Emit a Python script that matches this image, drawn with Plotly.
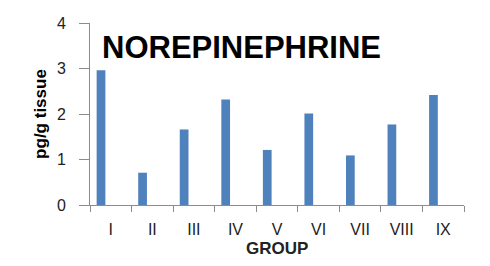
import plotly.graph_objects as go

groups = ["I", "II", "III", "IV", "V", "VI", "VII", "VIII", "IX"]
values = [2.96, 0.71, 1.66, 2.32, 1.21, 2.01, 1.09, 1.77, 2.42]
title_text = "NOREPINEPHRINE"
y_title = "pg/g tissue"
x_title = "GROUP"

fnt = "Liberation Sans, Arial, sans-serif"

fig = go.Figure()
fig.add_trace(go.Bar(
    x=groups, y=values,
    marker=dict(color="#4F81BD", line=dict(width=0)),
    width=0.21, offset=-0.34,
))

# page body has an 8px margin; figure sized/placed to compensate
fig.update_layout(
    width=474, height=250,
    margin=dict(l=82, r=18, t=7, b=53),
    paper_bgcolor="white", plot_bgcolor="white",
    showlegend=False,
    font=dict(family=fnt, color="#222222"),
    xaxis=dict(
        type="category", range=[-0.5, 8.5],
        showline=True, linecolor="#8c8c8c", linewidth=1,
        ticks="outside", tickson="boundaries", ticklen=6, tickcolor="#8c8c8c",
        ticklabelstandoff=10,
        tickfont=dict(size=16, color="#222222"), showgrid=False, zeroline=False,
    ),
    yaxis=dict(
        range=[0, 4], tickvals=[0, 1, 2, 3, 4],
        showline=True, linecolor="#8c8c8c", linewidth=1,
        ticks="outside", ticklen=10, tickcolor="#8c8c8c",
        ticklabelstandoff=10, ticklabeloverflow="allow",
        tickfont=dict(size=16, color="#222222"), showgrid=False, zeroline=False,
    ),
    annotations=[
        dict(text=f"<b>{title_text}</b>", xref="paper", yref="paper",
             x=0.406, y=0.865, xanchor="center", yanchor="middle",
             showarrow=False, font=dict(size=31, color="black", family=fnt)),
        dict(text=f"<b>{y_title}</b>", xref="paper", yref="paper",
             x=-0.134, y=0.5, xanchor="center", yanchor="middle", textangle=-90,
             showarrow=False, font=dict(size=17, color="black", family=fnt)),
        dict(text=f"<b>{x_title}</b>", xref="paper", yref="paper",
             x=0.5, y=-0.237, xanchor="center", yanchor="middle",
             showarrow=False, font=dict(size=17, color="#222222", family=fnt)),
    ],
)

fig.write_html("out.html")
